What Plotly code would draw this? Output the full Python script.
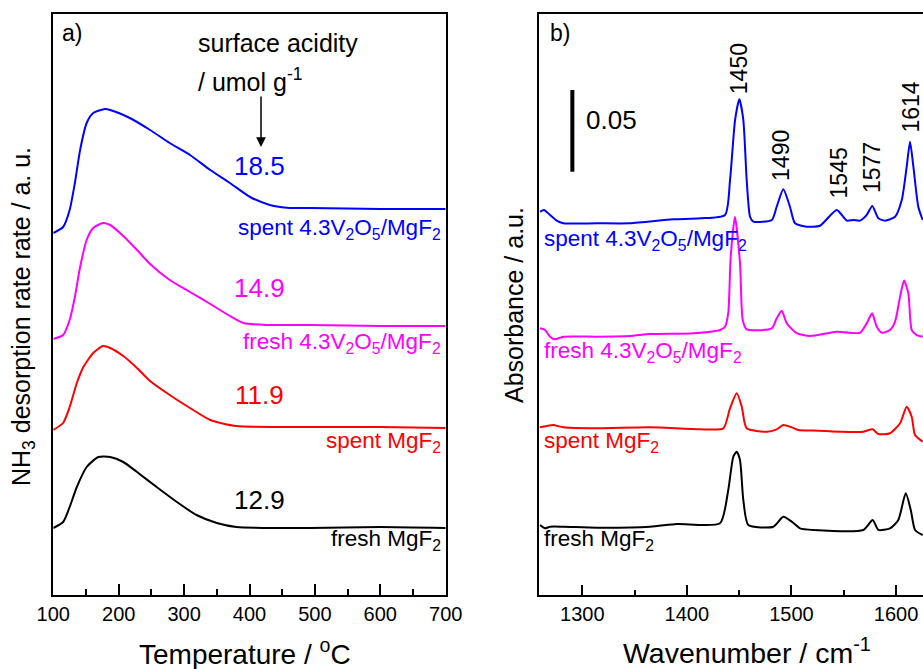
import plotly.graph_objects as go

# ---------------- Panel a) NH3-TPD ----------------
temp_blue = [100, 115, 125, 133, 141, 151, 161, 179, 187, 217, 248, 278, 309, 340, 370, 401, 431, 462, 492, 600, 700]
rate_blue = [362, 368, 385, 412, 445, 472, 482, 486, 485, 477, 465, 452, 440, 425, 412, 398, 390, 387, 387, 386, 386]

temp_magenta = [100, 115, 125, 133, 141, 151, 161, 176, 187, 207, 228, 248, 278, 309, 340, 370, 391, 426, 492, 600, 700]
rate_magenta = [256, 260, 275, 298, 328, 355, 367, 372, 370, 359, 345, 331, 315, 303, 291, 279, 272, 270, 270, 269, 269]

temp_red = [100, 115, 125, 136, 146, 161, 176, 187, 207, 228, 248, 278, 309, 340, 380, 492, 600, 700]
rate_red = [165, 172, 188, 212, 228, 242, 249, 247, 239, 227, 214, 200, 187, 175, 169, 168, 168, 167]

temp_black = [100, 115, 125, 136, 151, 169, 187, 207, 228, 258, 289, 319, 350, 380, 492, 600, 700]
rate_black = [67, 73, 88, 108, 128, 138, 138, 133, 123, 108, 93, 80, 72, 68, 67, 68, 67]

sample_names = ["spent 4.3V<sub>2</sub>O<sub>5</sub>/MgF<sub>2</sub>",
                "fresh 4.3V<sub>2</sub>O<sub>5</sub>/MgF<sub>2</sub>",
                "spent MgF<sub>2</sub>",
                "fresh MgF<sub>2</sub>"]
acidity = ["18.5", "14.9", "11.9", "12.9"]
colors = ["#0000FF", "#FF00FF", "#FF0000", "#000000"]

# ---------------- Panel b) IR spectra ----------------
wn_blue = [1259.6, 1263.4, 1269.1, 1275.5, 1281.9, 1313.8, 1345.6, 1386.8, 1412.6, 1436.5, 1441.3, 1446.1, 1450.2,
           1454.0, 1457.2, 1460.4, 1463.6, 1481.2, 1485.9, 1492.2, 1498.6, 1503.4, 1514.6, 1527.3, 1543.3, 1552.9,
           1559.2, 1565.6, 1572.0, 1577.3, 1583.1, 1589.5, 1599.1, 1605.5, 1610.2, 1613.4, 1616.6, 1621.3, 1625.5]
abs_blue = [0.2346, 0.2356, 0.2326, 0.2291, 0.2275, 0.2275, 0.2275, 0.2299, 0.2305, 0.2326, 0.2540, 0.2907, 0.3034,
            0.2907, 0.2540, 0.2315, 0.2285, 0.2295, 0.2376, 0.2483, 0.2376, 0.2275, 0.2254, 0.2260, 0.2356, 0.2291,
            0.2295, 0.2291, 0.2326, 0.2381, 0.2305, 0.2291, 0.2315, 0.2417, 0.2621, 0.2774, 0.2621, 0.2376, 0.2295]

wn_magenta = [1259.6, 1264.4, 1269.1, 1273.9, 1281.9, 1313.8, 1345.6, 1364.8, 1406.2, 1431.7, 1436.5, 1439.6, 1441.9,
              1446.0, 1450.8, 1453.4, 1457.2, 1481.2, 1485.9, 1490.7, 1495.5, 1505.0, 1517.8, 1543.3, 1565.6, 1572.0,
              1577.1, 1581.6, 1586.3, 1594.3, 1599.1, 1603.9, 1607.7, 1611.8, 1615.0, 1619.8, 1625.5]
abs_magenta = [0.1632, 0.1622, 0.1581, 0.1565, 0.1581, 0.1581, 0.1585, 0.1597, 0.1602, 0.1622, 0.1642, 0.1726, 0.2070,
               0.2315, 0.2032, 0.1683, 0.1626, 0.1632, 0.1693, 0.1740, 0.1663, 0.1602, 0.1585, 0.1611, 0.1605, 0.1663,
               0.1724, 0.1642, 0.1605, 0.1622, 0.1673, 0.1826, 0.1924, 0.1846, 0.1622, 0.1591, 0.1581]

wn_red = [1259.6, 1266.0, 1272.3, 1281.9, 1313.8, 1364.8, 1412.6, 1434.9, 1441.3, 1447.7, 1452.5, 1457.2, 1476.4,
          1485.9, 1492.2, 1500.3, 1506.6, 1520.9, 1546.4, 1568.7, 1577.7, 1583.1, 1594.3, 1603.9, 1610.2, 1615.0,
          1618.2, 1625.5]
abs_red = [0.1026, 0.1034, 0.1040, 0.1026, 0.1020, 0.1026, 0.1014, 0.1020, 0.1143, 0.1234, 0.1152, 0.1020, 0.0999,
           0.1014, 0.1040, 0.1026, 0.1010, 0.1006, 0.0999, 0.0999, 0.1014, 0.0985, 0.0990, 0.1051, 0.1152, 0.1091,
           0.0979, 0.0938]

wn_black = [1259.6, 1264.4, 1269.1, 1281.9, 1313.8, 1364.8, 1390.3, 1431.7, 1439.6, 1444.4, 1447.7, 1450.8, 1454.0,
            1458.8, 1482.7, 1492.2, 1500.3, 1508.2, 1520.9, 1568.7, 1577.7, 1583.1, 1594.3, 1602.2, 1609.3, 1614.1,
            1618.2, 1625.5]
abs_black = [0.0428, 0.0408, 0.0418, 0.0418, 0.0412, 0.0418, 0.0435, 0.0439, 0.0643, 0.0846, 0.0877, 0.0826, 0.0581,
             0.0428, 0.0418, 0.0479, 0.0449, 0.0408, 0.0398, 0.0398, 0.0459, 0.0398, 0.0408, 0.0459, 0.0622, 0.0520,
             0.0398, 0.0367]

peak_labels = ["1450", "1490", "1545", "1577", "1614"]
peak_label_y = [0.3219, 0.2693, 0.2583, 0.2619, 0.2987]

scale_bar_x = [1290.5, 1290.5]
scale_bar_y = [0.2591, 0.3091]   # 0.05 absorbance
scale_bar_text = "0.05"

FONT = "Arial, Liberation Sans, sans-serif"

fig = go.Figure()

tpd = [(temp_blue, rate_blue), (temp_magenta, rate_magenta), (temp_red, rate_red), (temp_black, rate_black)]
for (t, r), c in zip(tpd, colors):
    fig.add_trace(go.Scatter(x=t, y=r, mode="lines", xaxis="x", yaxis="y",
                             line=dict(color=c, width=2, shape="spline", smoothing=0.6),
                             showlegend=False, hoverinfo="skip"))

ir = [(wn_blue, abs_blue), (wn_magenta, abs_magenta), (wn_red, abs_red), (wn_black, abs_black)]
for (w, a), c in zip(ir, colors):
    fig.add_trace(go.Scatter(x=w, y=a, mode="lines", xaxis="x2", yaxis="y2",
                             line=dict(color=c, width=2, shape="spline", smoothing=0.6),
                             showlegend=False, hoverinfo="skip"))

fig.add_trace(go.Scatter(x=scale_bar_x, y=scale_bar_y, mode="lines", xaxis="x2", yaxis="y2",
                         line=dict(color="black", width=4), showlegend=False, hoverinfo="skip"))

ydom = [1 - 595 / 669, 1 - 14 / 669]
xdom1 = [53.3 / 923, 445.7 / 923]
xdom2 = [539.3 / 923, 1.0]

axis_common = dict(showline=True, linecolor="black", linewidth=2, showgrid=False, zeroline=False,
                   automargin=False, tickfont=dict(family=FONT, size=20, color="black"))

fig.update_layout(
    width=923, height=669, autosize=False,
    margin=dict(l=0, r=0, t=0, b=0, pad=0, autoexpand=False),
    paper_bgcolor="white", plot_bgcolor="white",
    font=dict(family=FONT, color="black"),
    xaxis=dict(domain=xdom1, range=[100, 700], anchor="y", mirror=True, ticks="inside", ticklen=11,
               tickwidth=2, tickcolor="black", dtick=100, tick0=100,
               minor=dict(dtick=50, tick0=100, ticks="inside", ticklen=6, tickwidth=2, tickcolor="black"),
               **axis_common),
    xaxis3=dict(overlaying="x", side="top", anchor="y", range=[100, 700], ticks="inside", ticklen=4,
                tickwidth=1.5, tickcolor="black", dtick=50, tick0=100, showticklabels=False,
                showline=False, showgrid=False, zeroline=False, automargin=False),
    yaxis=dict(domain=ydom, range=[0, 581], anchor="x", mirror=True, ticks="", showticklabels=False,
               **axis_common),
    xaxis2=dict(domain=xdom2, range=[1258.9, 1625.8], anchor="y2", mirror=True, ticks="inside", ticklen=10,
                tickwidth=2, tickcolor="black", dtick=100, tick0=1300,
                minor=dict(dtick=50, tick0=1300, ticks="inside", ticklen=5, tickwidth=2, tickcolor="black"),
                **axis_common),
    xaxis4=dict(overlaying="x2", side="top", anchor="y2", range=[1258.9, 1625.8], ticks="inside", ticklen=4,
                tickwidth=1.5, tickcolor="black", dtick=50, tick0=1300, showticklabels=False,
                showline=False, showgrid=False, zeroline=False, automargin=False),
    yaxis2=dict(domain=ydom, range=[0, 581 / 1634], anchor="x2", mirror=False, ticks="", showticklabels=False,
                **axis_common),
)

ann = []
# panel letters
ann.append(dict(x=110, y=562, xref="x", yref="y", text="a)", showarrow=False, xanchor="left", yanchor="middle",
                font=dict(size=23, family=FONT, color="black")))
ann.append(dict(x=1267, y=0.3439, xref="x2", yref="y2", text="b)", showarrow=False, xanchor="left",
                yanchor="middle", font=dict(size=23, family=FONT, color="black")))
# surface acidity header
ann.append(dict(x=318, y=552, xref="x", yref="y", text="surface acidity", showarrow=False, xanchor="left",
                yanchor="middle", font=dict(size=25, family=FONT, color="black")))
ann.append(dict(x=318, y=515, xref="x", yref="y", text="/ umol g<sup>-1</sup>", showarrow=False, xanchor="left",
                yanchor="middle", font=dict(size=25, family=FONT, color="black")))
ann.append(dict(x=417.6, y=448, ax=417.6, ay=500, xref="x", yref="y", axref="x", ayref="y", text="",
                showarrow=True, arrowhead=2, arrowsize=1.3, arrowwidth=1.5, arrowcolor="black", standoff=0))
# acidity values
acid_y = [429, 307, 200, 95]
for v, yy, c in zip(acidity, acid_y, colors):
    ann.append(dict(x=416, y=yy, xref="x", yref="y", text=v, showarrow=False, xanchor="center",
                    yanchor="middle", font=dict(size=26, family=FONT, color=c)))
# sample labels panel a
lab_y_a = [366, 252, 153, 55]
for n, yy, c in zip(sample_names, lab_y_a, colors):
    ann.append(dict(x=696, y=yy, xref="x", yref="y", text=n, showarrow=False, xanchor="right",
                    yanchor="middle", font=dict(size=22.5, family=FONT, color=c)))
# sample labels panel b
lab_y_b = [0.2172, 0.1486, 0.0936, 0.0336]
for n, yy, c in zip(sample_names, lab_y_b, colors):
    ann.append(dict(x=1261.5, y=yy, xref="x2", yref="y2", text=n, showarrow=False, xanchor="left",
                    yanchor="middle", font=dict(size=22.5, family=FONT, color=c)))
# peak labels
for p, yy in zip(peak_labels, peak_label_y):
    ann.append(dict(x=float(p), y=yy, xref="x2", yref="y2", text=p, showarrow=False, textangle=-90,
                    xanchor="center", yanchor="middle", font=dict(size=23, family=FONT, color="black")))
# scale bar text
ann.append(dict(x=1301.7, y=0.2907, xref="x2", yref="y2", text=scale_bar_text, showarrow=False,
                xanchor="left", yanchor="middle", font=dict(size=26, family=FONT, color="black")))
# axis titles
ann.append(dict(x=245 / 923, y=1 - 652 / 669, xref="paper", yref="paper", text="Temperature / <sup>o</sup>C",
                showarrow=False, xanchor="center", yanchor="middle", font=dict(size=28, family=FONT, color="black")))
ann.append(dict(x=746.7 / 923, y=1 - 651 / 669, xref="paper", yref="paper", text="Wavenumber / cm<sup>-1</sup>",
                showarrow=False, xanchor="center", yanchor="middle", font=dict(size=28.5, family=FONT, color="black")))
ann.append(dict(x=23 / 923, y=1 - 317 / 669, xref="paper", yref="paper",
                text="NH<sub>3</sub> desorption rate rate / a. u.", textangle=-90,
                showarrow=False, xanchor="center", yanchor="middle", font=dict(size=25, family=FONT, color="black")))
ann.append(dict(x=514 / 923, y=1 - 305 / 669, xref="paper", yref="paper",
                text="Absorbance / a.u.", textangle=-90,
                showarrow=False, xanchor="center", yanchor="middle", font=dict(size=25, family=FONT, color="black")))

fig.update_layout(annotations=ann)
fig.write_html("out.html")
